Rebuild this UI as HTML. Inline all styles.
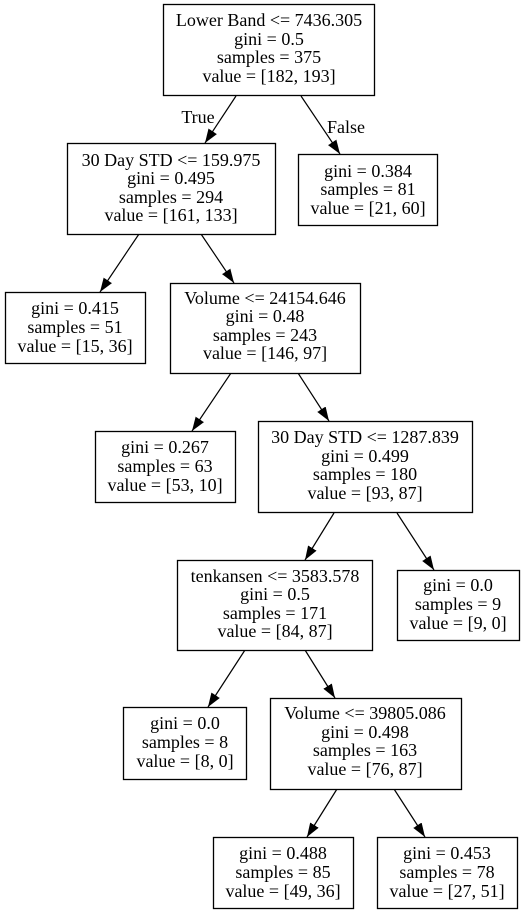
<!DOCTYPE html>
<html><head><meta charset="utf-8"><style>
html,body{margin:0;padding:0;background:#fff;}
svg{display:block;}
text{font-family:"Liberation Serif",serif;font-size:18px;fill:#000;text-anchor:middle;}
rect{fill:#fff;stroke:#000;stroke-width:1.3;}
line{stroke:#000;stroke-width:1.2;}
</style></head><body>
<svg width="525" height="913" viewBox="0 0 525 913" xmlns="http://www.w3.org/2000/svg">
<defs><marker id="a" markerUnits="userSpaceOnUse" markerWidth="14" markerHeight="10" refX="14" refY="5" orient="auto"><path d="M0,0 L14,5 L0,10 z" fill="#000"/></marker></defs>

<line x1="236" y1="96" x2="205" y2="143" marker-end="url(#a)"/>
<line x1="301" y1="96" x2="340" y2="154" marker-end="url(#a)"/>
<line x1="139" y1="234" x2="100" y2="292" marker-end="url(#a)"/>
<line x1="201" y1="234" x2="234" y2="283" marker-end="url(#a)"/>
<line x1="231" y1="373" x2="192" y2="431" marker-end="url(#a)"/>
<line x1="298" y1="373" x2="329" y2="421" marker-end="url(#a)"/>
<line x1="334" y1="513" x2="305" y2="560" marker-end="url(#a)"/>
<line x1="397" y1="513" x2="434" y2="570" marker-end="url(#a)"/>
<line x1="245" y1="650" x2="208" y2="707" marker-end="url(#a)"/>
<line x1="305" y1="650" x2="335" y2="698" marker-end="url(#a)"/>
<line x1="337" y1="789" x2="307" y2="837" marker-end="url(#a)"/>
<line x1="394" y1="789" x2="425" y2="837" marker-end="url(#a)"/>
<text x="198" y="123">True</text>
<text x="346" y="133">False</text>

<rect x="163.5" y="4.5" width="211" height="91"/>
<text x="269" y="26">Lower Band &lt;= 7436.305</text>
<text x="269" y="45">gini = 0.5</text>
<text x="269" y="63">samples = 375</text>
<text x="269" y="82">value = [182, 193]</text>

<rect x="67.5" y="143.5" width="208" height="91"/>
<text x="171" y="166">30 Day STD &lt;= 159.975</text>
<text x="171" y="184">gini = 0.495</text>
<text x="171" y="203">samples = 294</text>
<text x="171" y="221">value = [161, 133]</text>

<rect x="298.5" y="154.5" width="139" height="71"/>
<text x="368" y="177">gini = 0.384</text>
<text x="368" y="195">samples = 81</text>
<text x="368" y="214">value = [21, 60]</text>

<rect x="5.5" y="292.5" width="140" height="71"/>
<text x="75" y="314">gini = 0.415</text>
<text x="75" y="333">samples = 51</text>
<text x="75" y="352">value = [15, 36]</text>

<rect x="170.5" y="283.5" width="190" height="90"/>
<text x="265" y="304">Volume &lt;= 24154.646</text>
<text x="265" y="322">gini = 0.48</text>
<text x="265" y="341">samples = 243</text>
<text x="265" y="359">value = [146, 97]</text>

<rect x="95.5" y="431.5" width="140" height="71"/>
<text x="165" y="453">gini = 0.267</text>
<text x="165" y="472">samples = 63</text>
<text x="165" y="491">value = [53, 10]</text>

<rect x="258.5" y="421.5" width="214" height="91"/>
<text x="365" y="443">30 Day STD &lt;= 1287.839</text>
<text x="365" y="462">gini = 0.499</text>
<text x="365" y="480">samples = 180</text>
<text x="365" y="499">value = [93, 87]</text>

<rect x="177.5" y="560.5" width="195" height="90"/>
<text x="275" y="582">tenkansen &lt;= 3583.578</text>
<text x="275" y="600">gini = 0.5</text>
<text x="275" y="619">samples = 171</text>
<text x="275" y="637">value = [84, 87]</text>

<rect x="397.5" y="570.5" width="122" height="70"/>
<text x="458" y="591">gini = 0.0</text>
<text x="458" y="610">samples = 9</text>
<text x="458" y="629">value = [9, 0]</text>

<rect x="123.5" y="707.5" width="123" height="72"/>
<text x="185" y="729">gini = 0.0</text>
<text x="185" y="748">samples = 8</text>
<text x="185" y="767">value = [8, 0]</text>

<rect x="270.5" y="698.5" width="191" height="91"/>
<text x="365" y="719">Volume &lt;= 39805.086</text>
<text x="365" y="738">gini = 0.498</text>
<text x="365" y="756">samples = 163</text>
<text x="365" y="775">value = [76, 87]</text>

<rect x="213.5" y="837.5" width="140" height="71"/>
<text x="283" y="859">gini = 0.488</text>
<text x="283" y="878">samples = 85</text>
<text x="283" y="897">value = [49, 36]</text>

<rect x="377.5" y="837.5" width="140" height="71"/>
<text x="447" y="859">gini = 0.453</text>
<text x="447" y="878">samples = 78</text>
<text x="447" y="897">value = [27, 51]</text>
</svg>
</body></html>
